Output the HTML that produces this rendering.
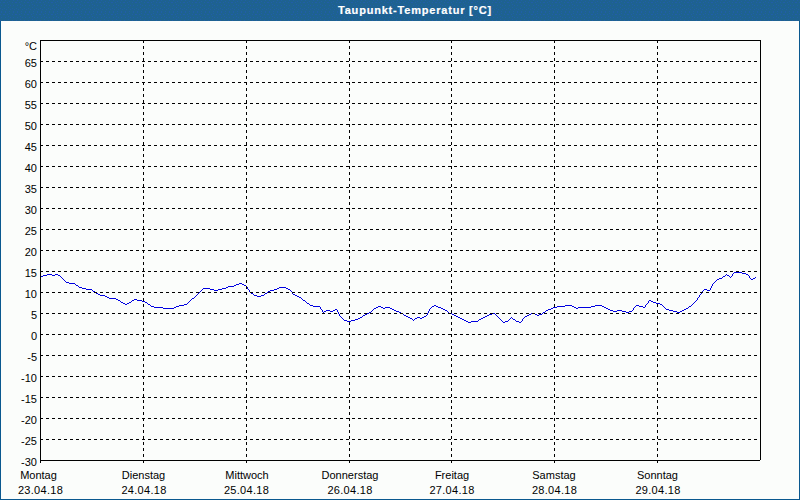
<!DOCTYPE html><html><head><meta charset="utf-8"><title>Taupunkt-Temperatur</title><style>
html,body{margin:0;padding:0}
body{width:800px;height:500px;overflow:hidden;position:relative;background:#fbfdfb;font-family:"Liberation Sans",sans-serif;font-size:11px;color:#000}
.a{position:absolute}
.t{position:absolute;white-space:nowrap;line-height:13px}
.yl{position:absolute;right:763px;white-space:nowrap;line-height:13px;text-align:right}
.xl{position:absolute;width:100px;text-align:center;white-space:nowrap;line-height:13px}
.hdr{left:0;top:0;width:800px;height:21px;background:#1e6290}
.ttl{color:#fff;font-weight:bold;left:338px;top:4px;letter-spacing:0.8px;-webkit-text-stroke:0.2px #fff}
.dt{letter-spacing:0.3px}
</style></head><body>
<div class="a hdr"></div>
<svg class="a" style="left:0;top:0" width="800" height="21" shape-rendering="crispEdges"><defs><pattern id="dp" x="4" y="0" width="12" height="12" patternUnits="userSpaceOnUse"><path d="M1 0h1v1h-1zM9 0h1v1h-1zM5 1h1v1h-1zM0 2h1v1h-1zM3 2h1v1h-1zM8 2h1v1h-1zM11 2h1v1h-1zM4 4h1v1h-1zM1 5h1v1h-1zM6 5h1v1h-1zM9 5h1v1h-1zM4 7h1v1h-1zM0 8h1v1h-1zM8 8h1v1h-1zM2 9h1v1h-1zM6 9h1v1h-1zM10 9h1v1h-1zM1 11h1v1h-1zM5 11h1v1h-1zM9 11h1v1h-1z" fill="#205ea8"/></pattern></defs><rect width="800" height="21" fill="url(#dp)"/></svg>
<div class="t ttl">Taupunkt-Temperatur [°C]</div>
<div class="a" style="left:0;top:21px;width:1px;height:479px;background:#0a588f"></div>
<div class="a" style="left:799px;top:21px;width:1px;height:479px;background:#0a588f"></div>
<div class="a" style="left:0;top:499px;width:800px;height:1px;background:#0a588f"></div>
<div class="yl" style="top:456px">-30</div>
<div class="yl" style="top:435px">-25</div>
<div class="yl" style="top:414px">-20</div>
<div class="yl" style="top:393px">-15</div>
<div class="yl" style="top:372px">-10</div>
<div class="yl" style="top:351px">-5</div>
<div class="yl" style="top:330px">0</div>
<div class="yl" style="top:309px">5</div>
<div class="yl" style="top:288px">10</div>
<div class="yl" style="top:267px">15</div>
<div class="yl" style="top:246px">20</div>
<div class="yl" style="top:225px">25</div>
<div class="yl" style="top:204px">30</div>
<div class="yl" style="top:183px">35</div>
<div class="yl" style="top:162px">40</div>
<div class="yl" style="top:141px">45</div>
<div class="yl" style="top:120px">50</div>
<div class="yl" style="top:99px">55</div>
<div class="yl" style="top:78px">60</div>
<div class="yl" style="top:57px">65</div>
<div class="yl" style="top:40px">°C</div>
<div class="xl" style="left:-11.5px;top:469px">Montag</div>
<div class="xl dt" style="left:-9.5px;top:484px">23.04.18</div>
<div class="xl" style="left:93.5px;top:469px">Dienstag</div>
<div class="xl dt" style="left:94px;top:484px">24.04.18</div>
<div class="xl" style="left:197px;top:469px">Mittwoch</div>
<div class="xl dt" style="left:196.5px;top:484px">25.04.18</div>
<div class="xl" style="left:300px;top:469px">Donnerstag</div>
<div class="xl dt" style="left:300px;top:484px">26.04.18</div>
<div class="xl" style="left:402px;top:469px">Freitag</div>
<div class="xl dt" style="left:402px;top:484px">27.04.18</div>
<div class="xl" style="left:504px;top:469px">Samstag</div>
<div class="xl dt" style="left:504.5px;top:484px">28.04.18</div>
<div class="xl" style="left:607.5px;top:469px">Sonntag</div>
<div class="xl dt" style="left:608px;top:484px">29.04.18</div>
<svg class="a" style="left:0;top:0" width="800" height="500" viewBox="0 0 800 500" shape-rendering="crispEdges">
<path d="M734 272h8v1h-8zM733 273h1v1h-1zM742 273h4v1h-4zM47 274h5v1h-5zM55 274h3v1h-3zM726 274h1v1h-1zM732 274h1v1h-1zM746 274h2v1h-2zM43 275h4v1h-4zM52 275h3v1h-3zM58 275h2v1h-2zM725 275h1v1h-1zM727 275h2v1h-2zM732 275h1v1h-1zM748 275h1v1h-1zM41 276h2v1h-2zM60 276h1v1h-1zM723 276h2v1h-2zM729 276h1v1h-1zM731 276h1v1h-1zM749 276h1v1h-1zM61 277h1v1h-1zM722 277h1v1h-1zM730 277h1v1h-1zM749 277h1v1h-1zM755 277h1v1h-1zM62 278h1v1h-1zM719 278h3v1h-3zM750 278h1v1h-1zM753 278h2v1h-2zM63 279h1v1h-1zM717 279h2v1h-2zM751 279h2v1h-2zM64 280h1v1h-1zM716 280h1v1h-1zM65 281h1v1h-1zM715 281h1v1h-1zM66 282h3v1h-3zM714 282h1v1h-1zM69 283h6v1h-6zM239 283h3v1h-3zM713 283h1v1h-1zM75 284h1v1h-1zM236 284h3v1h-3zM242 284h2v1h-2zM712 284h1v1h-1zM76 285h2v1h-2zM234 285h2v1h-2zM244 285h2v1h-2zM712 285h1v1h-1zM78 286h1v1h-1zM228 286h6v1h-6zM246 286h1v1h-1zM711 286h1v1h-1zM79 287h3v1h-3zM226 287h2v1h-2zM247 287h1v1h-1zM279 287h7v1h-7zM711 287h1v1h-1zM82 288h4v1h-4zM203 288h7v1h-7zM222 288h4v1h-4zM247 288h1v1h-1zM277 288h2v1h-2zM286 288h2v1h-2zM710 288h1v1h-1zM86 289h6v1h-6zM202 289h1v1h-1zM210 289h4v1h-4zM218 289h4v1h-4zM248 289h1v1h-1zM274 289h3v1h-3zM288 289h2v1h-2zM704 289h3v1h-3zM710 289h1v1h-1zM92 290h1v1h-1zM201 290h1v1h-1zM214 290h4v1h-4zM249 290h1v1h-1zM270 290h4v1h-4zM290 290h1v1h-1zM703 290h1v1h-1zM707 290h3v1h-3zM93 291h2v1h-2zM200 291h1v1h-1zM249 291h1v1h-1zM268 291h2v1h-2zM291 291h1v1h-1zM702 291h1v1h-1zM95 292h1v1h-1zM199 292h1v1h-1zM250 292h1v1h-1zM267 292h1v1h-1zM292 292h1v1h-1zM702 292h1v1h-1zM96 293h2v1h-2zM198 293h1v1h-1zM251 293h2v1h-2zM265 293h2v1h-2zM292 293h1v1h-1zM701 293h1v1h-1zM98 294h2v1h-2zM197 294h1v1h-1zM253 294h1v1h-1zM264 294h1v1h-1zM293 294h2v1h-2zM700 294h1v1h-1zM100 295h5v1h-5zM196 295h1v1h-1zM254 295h3v1h-3zM261 295h3v1h-3zM295 295h2v1h-2zM699 295h1v1h-1zM105 296h2v1h-2zM195 296h1v1h-1zM257 296h4v1h-4zM297 296h2v1h-2zM699 296h1v1h-1zM107 297h2v1h-2zM194 297h1v1h-1zM299 297h2v1h-2zM698 297h1v1h-1zM109 298h7v1h-7zM192 298h2v1h-2zM301 298h1v1h-1zM697 298h1v1h-1zM116 299h2v1h-2zM134 299h3v1h-3zM191 299h1v1h-1zM302 299h1v1h-1zM697 299h1v1h-1zM118 300h2v1h-2zM132 300h2v1h-2zM137 300h5v1h-5zM190 300h1v1h-1zM303 300h2v1h-2zM649 300h2v1h-2zM696 300h1v1h-1zM120 301h1v1h-1zM131 301h1v1h-1zM142 301h3v1h-3zM189 301h1v1h-1zM305 301h1v1h-1zM648 301h1v1h-1zM651 301h2v1h-2zM695 301h1v1h-1zM121 302h2v1h-2zM129 302h2v1h-2zM145 302h2v1h-2zM188 302h1v1h-1zM306 302h1v1h-1zM648 302h1v1h-1zM653 302h3v1h-3zM694 302h1v1h-1zM123 303h2v1h-2zM127 303h2v1h-2zM147 303h1v1h-1zM187 303h1v1h-1zM307 303h2v1h-2zM647 303h1v1h-1zM656 303h4v1h-4zM693 303h1v1h-1zM125 304h2v1h-2zM148 304h2v1h-2zM184 304h3v1h-3zM309 304h1v1h-1zM646 304h1v1h-1zM660 304h2v1h-2zM692 304h1v1h-1zM150 305h1v1h-1zM179 305h5v1h-5zM310 305h3v1h-3zM434 305h2v1h-2zM565 305h7v1h-7zM595 305h7v1h-7zM636 305h3v1h-3zM645 305h1v1h-1zM662 305h1v1h-1zM691 305h1v1h-1zM151 306h3v1h-3zM176 306h3v1h-3zM313 306h7v1h-7zM378 306h3v1h-3zM432 306h2v1h-2zM436 306h2v1h-2zM557 306h8v1h-8zM572 306h2v1h-2zM591 306h4v1h-4zM602 306h2v1h-2zM635 306h1v1h-1zM639 306h4v1h-4zM645 306h1v1h-1zM663 306h1v1h-1zM689 306h2v1h-2zM154 307h9v1h-9zM174 307h2v1h-2zM320 307h1v1h-1zM376 307h2v1h-2zM381 307h2v1h-2zM385 307h5v1h-5zM431 307h1v1h-1zM438 307h3v1h-3zM553 307h4v1h-4zM574 307h2v1h-2zM578 307h13v1h-13zM604 307h2v1h-2zM634 307h1v1h-1zM643 307h2v1h-2zM664 307h1v1h-1zM688 307h1v1h-1zM163 308h11v1h-11zM320 308h1v1h-1zM374 308h2v1h-2zM383 308h2v1h-2zM390 308h2v1h-2zM430 308h1v1h-1zM441 308h2v1h-2zM551 308h2v1h-2zM576 308h2v1h-2zM606 308h2v1h-2zM633 308h1v1h-1zM665 308h1v1h-1zM686 308h2v1h-2zM321 309h1v1h-1zM335 309h2v1h-2zM373 309h1v1h-1zM392 309h2v1h-2zM429 309h1v1h-1zM443 309h2v1h-2zM548 309h3v1h-3zM608 309h2v1h-2zM633 309h1v1h-1zM666 309h3v1h-3zM684 309h2v1h-2zM322 310h1v1h-1zM326 310h4v1h-4zM333 310h2v1h-2zM337 310h1v1h-1zM372 310h1v1h-1zM394 310h2v1h-2zM429 310h1v1h-1zM445 310h2v1h-2zM546 310h2v1h-2zM610 310h3v1h-3zM617 310h5v1h-5zM632 310h1v1h-1zM669 310h4v1h-4zM682 310h2v1h-2zM322 311h1v1h-1zM324 311h2v1h-2zM330 311h3v1h-3zM337 311h1v1h-1zM371 311h1v1h-1zM396 311h3v1h-3zM428 311h1v1h-1zM447 311h1v1h-1zM545 311h1v1h-1zM613 311h4v1h-4zM622 311h4v1h-4zM629 311h3v1h-3zM673 311h4v1h-4zM680 311h2v1h-2zM323 312h1v1h-1zM338 312h1v1h-1zM369 312h2v1h-2zM399 312h2v1h-2zM428 312h1v1h-1zM448 312h1v1h-1zM543 312h2v1h-2zM626 312h3v1h-3zM677 312h3v1h-3zM338 313h1v1h-1zM367 313h2v1h-2zM401 313h2v1h-2zM427 313h1v1h-1zM449 313h3v1h-3zM492 313h3v1h-3zM531 313h4v1h-4zM542 313h1v1h-1zM339 314h1v1h-1zM365 314h2v1h-2zM403 314h1v1h-1zM427 314h1v1h-1zM452 314h2v1h-2zM489 314h3v1h-3zM495 314h1v1h-1zM529 314h2v1h-2zM535 314h2v1h-2zM539 314h3v1h-3zM339 315h1v1h-1zM363 315h2v1h-2zM404 315h2v1h-2zM426 315h1v1h-1zM454 315h2v1h-2zM487 315h2v1h-2zM496 315h1v1h-1zM527 315h2v1h-2zM537 315h2v1h-2zM340 316h1v1h-1zM362 316h1v1h-1zM406 316h2v1h-2zM424 316h2v1h-2zM456 316h2v1h-2zM485 316h2v1h-2zM497 316h1v1h-1zM525 316h2v1h-2zM341 317h1v1h-1zM360 317h2v1h-2zM408 317h2v1h-2zM417 317h3v1h-3zM422 317h2v1h-2zM458 317h2v1h-2zM483 317h2v1h-2zM498 317h1v1h-1zM511 317h1v1h-1zM524 317h1v1h-1zM342 318h1v1h-1zM358 318h2v1h-2zM410 318h2v1h-2zM415 318h2v1h-2zM420 318h2v1h-2zM460 318h2v1h-2zM481 318h2v1h-2zM499 318h1v1h-1zM510 318h1v1h-1zM512 318h1v1h-1zM523 318h1v1h-1zM343 319h1v1h-1zM355 319h3v1h-3zM412 319h1v1h-1zM414 319h1v1h-1zM462 319h2v1h-2zM479 319h2v1h-2zM500 319h1v1h-1zM509 319h1v1h-1zM513 319h2v1h-2zM522 319h1v1h-1zM344 320h3v1h-3zM351 320h4v1h-4zM413 320h1v1h-1zM464 320h2v1h-2zM478 320h1v1h-1zM501 320h1v1h-1zM508 320h1v1h-1zM515 320h1v1h-1zM522 320h1v1h-1zM347 321h4v1h-4zM466 321h2v1h-2zM471 321h7v1h-7zM502 321h1v1h-1zM505 321h3v1h-3zM516 321h3v1h-3zM521 321h1v1h-1zM468 322h3v1h-3zM503 322h2v1h-2zM519 322h2v1h-2z" fill="#0000e0"/>
<path d="M40 439.5H760M40 418.5H760M40 397.5H760M40 376.5H760M40 355.5H760M40 334.5H760M40 313.5H760M40 292.5H760M40 271.5H760M40 250.5H760M40 229.5H760M40 208.5H760M40 187.5H760M40 166.5H760M40 145.5H760M40 124.5H760M40 103.5H760M40 82.5H760M40 61.5H760" stroke="#000" stroke-width="1" stroke-dasharray="3 3" fill="none"/>
<path d="M143.5 40V460M246.5 40V460M349.5 40V460M451.5 40V460M554.5 40V460M657.5 40V460" stroke="#000" stroke-width="1" stroke-dasharray="3 3" fill="none"/>
<rect x="40" y="40" width="721" height="1" fill="#000"/>
<rect x="40" y="460" width="720" height="1" fill="#000"/>
<rect x="40" y="40" width="1" height="423" fill="#000"/>
<rect x="760" y="40" width="1" height="420" fill="#000"/>
<rect x="143" y="461" width="1" height="2" fill="#000"/>
<rect x="246" y="461" width="1" height="2" fill="#000"/>
<rect x="349" y="461" width="1" height="2" fill="#000"/>
<rect x="451" y="461" width="1" height="2" fill="#000"/>
<rect x="554" y="461" width="1" height="2" fill="#000"/>
<rect x="657" y="461" width="1" height="2" fill="#000"/>
</svg>
</body></html>
